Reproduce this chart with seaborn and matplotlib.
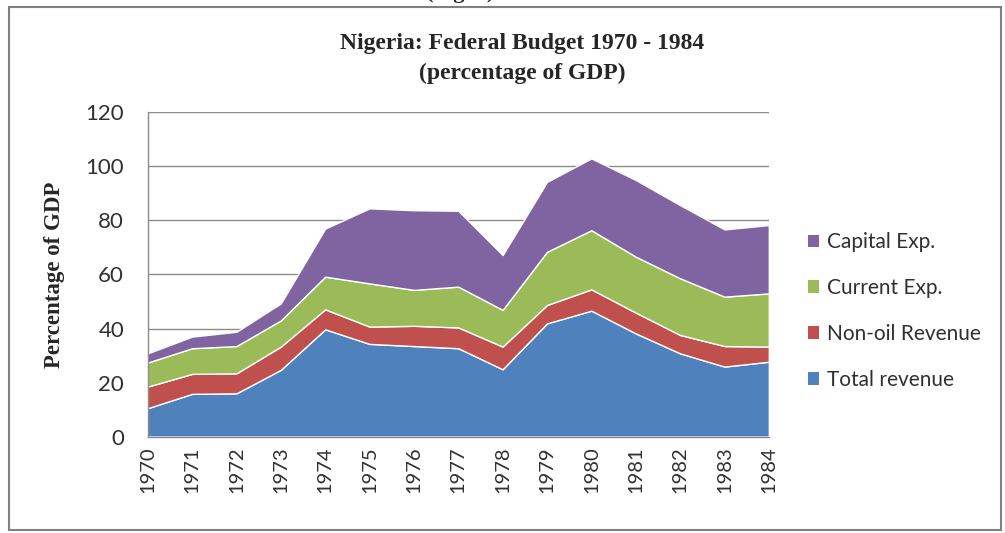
import matplotlib
matplotlib.use("Agg")
import matplotlib.pyplot as plt
import seaborn as sns
import numpy as np
from matplotlib.patches import Rectangle, Patch

years = [1970, 1971, 1972, 1973, 1974, 1975, 1976, 1977, 1978, 1979, 1980, 1981, 1982, 1983, 1984]
total_revenue = [10.5, 15.8, 16.0, 24.7, 39.7, 34.3, 33.5, 32.7, 24.9, 41.9, 46.6, 38.2, 30.8, 25.9, 27.7]
non_oil_revenue = [8.0, 7.4, 7.4, 8.6, 7.4, 6.4, 7.5, 7.7, 8.4, 6.8, 7.9, 7.7, 6.8, 7.6, 5.6]
current_exp = [8.9, 9.5, 10.1, 9.7, 12.1, 16.0, 13.3, 15.1, 13.6, 19.7, 21.9, 20.7, 21.0, 18.3, 19.7]
capital_exp = [3.4, 4.3, 5.3, 6.3, 17.8, 27.8, 29.5, 28.1, 20.3, 25.9, 26.6, 28.4, 27.1, 24.9, 25.3]
series_names = ["Total revenue", "Non-oil Revenue", "Current Exp.", "Capital Exp."]
colors = ["#4F81BD", "#C0504D", "#9BBB59", "#8064A2"]
yticks = [0, 20, 40, 60, 80, 100, 120]

sns.set_theme(style="white")
plt.rcParams['font.family'] = ['Lato', 'DejaVu Sans']

fig = plt.figure(figsize=(10.05, 5.33), dpi=100)
ax = fig.add_axes([0.147, 0.181, 0.618, 0.608])

x = np.arange(len(years))
ax.stackplot(x, total_revenue, non_oil_revenue, current_exp, capital_exp,
             colors=colors, labels=series_names, zorder=2)
ax.set_xlim(0, len(years) - 1)
ax.set_ylim(0, 120)
ax.set_yticks(yticks)
ax.set_yticklabels([str(v) for v in yticks], fontsize=16, color="#303030")
ax.set_xticks(x)
ax.set_xticklabels([str(y) for y in years], rotation=90, fontsize=14.5, color="#303030")
ax.tick_params(axis='y', pad=17, length=0)
ax.tick_params(axis='x', pad=7, length=0)
ax.yaxis.grid(True, color="#8c8c8c", lw=1.0, zorder=1)
ax.set_axisbelow(True)
for s in ["top", "right"]:
    ax.spines[s].set_visible(False)
for s in ["left", "bottom"]:
    ax.spines[s].set_color("#8c8c8c")
    ax.spines[s].set_linewidth(1.0)

ax.set_ylabel("Percentage of GDP", fontsize=16.5, fontweight="bold",
              family=["Liberation Serif"])
ax.yaxis.set_label_coords(-0.133, 0.5)

fig.text(0.52, 1 - 44 / 533, "Nigeria: Federal Budget 1970 - 1984", ha="center", va="center",
         fontsize=17, fontweight="bold", family=["Liberation Serif"])
fig.text(0.52, 1 - 73 / 533, "(percentage of GDP)", ha="center", va="center",
         fontsize=17, fontweight="bold", family=["Liberation Serif"])
fig.text(0.458, 1 + 7 / 533, "(Fig. 1)", ha="center", va="center",
         fontsize=16, fontweight="bold", family=["Liberation Serif"])

handles = [Patch(facecolor=c, edgecolor="none") for c in colors]
leg = fig.legend(handles[::-1], series_names[::-1], loc="center left",
                 bbox_to_anchor=(0.785, 1 - 311 / 533), frameon=False,
                 fontsize=15, handlelength=0.55, handleheight=0.55, handletextpad=0.4,
                 labelspacing=1.24)
for t in leg.get_texts():
    t.set_color("#303030")

fig.patches.append(Rectangle((9 / 1005, 1 - 530 / 533), 992 / 1005, 523 / 533,
                             transform=fig.transFigure, fill=False,
                             edgecolor="#808080", lw=1.5))

fig.savefig("out.png", dpi=100)
